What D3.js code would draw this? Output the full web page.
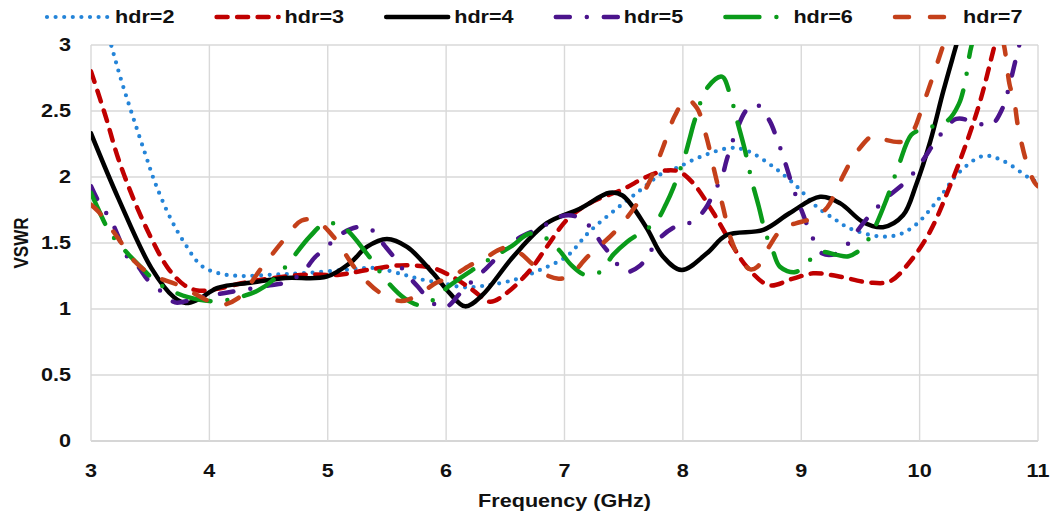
<!DOCTYPE html>
<html>
<head>
<meta charset="utf-8">
<script src="https://cdn.jsdelivr.net/npm/d3@7/dist/d3.min.js"></script>
<style>
  html, body { margin: 0; padding: 0; background: #ffffff; }
  svg { display: block; font-family: "Liberation Sans", Arial, sans-serif; font-weight: bold; }
</style>
</head>
<body>
<svg id="chart" width="1055" height="515"></svg>
<script>
// ---- data ----
const xTicks = [3, 4, 5, 6, 7, 8, 9, 10, 11];
const xTickLabels = ["3", "4", "5", "6", "7", "8", "9", "10", "11"];
const yTicks = [0, 0.5, 1, 1.5, 2, 2.5, 3];
const yTickLabels = ["0", "0.5", "1", "1.5", "2", "2.5", "3"];
const seriesNames = ["hdr=2", "hdr=3", "hdr=4", "hdr=5", "hdr=6", "hdr=7"];

// [frequency (GHz), VSWR]
const hdr2 = [[3.00,3.56],[3.17,3.00],[3.26,2.72],[3.36,2.44],[3.46,2.17],[3.54,1.96],[3.67,1.69],[3.79,1.50],[3.93,1.33],[4.08,1.27],[4.27,1.25],[4.53,1.26],[4.78,1.27],[5.13,1.295],[5.40,1.31],[5.64,1.26],[5.81,1.22],[5.98,1.195],[6.14,1.165],[6.31,1.175],[6.57,1.22],[6.79,1.295],[7.02,1.40],[7.21,1.585],[7.44,1.76],[7.64,1.90],[7.83,2.03],[7.95,2.07],[8.14,2.15],[8.40,2.22],[8.54,2.20],[8.76,2.08],[8.96,1.93],[9.13,1.775],[9.30,1.67],[9.41,1.61],[9.66,1.55],[9.83,1.565],[9.97,1.64],[10.14,1.81],[10.34,2.04],[10.54,2.16],[10.71,2.12],[10.93,1.99],[11.00,1.96]];
const hdr3 = [[3.00,2.80],[3.12,2.47],[3.23,2.14],[3.37,1.81],[3.51,1.535],[3.65,1.31],[3.79,1.18],[3.90,1.14],[4.08,1.155],[4.27,1.195],[4.50,1.23],[4.82,1.26],[5.10,1.26],[5.33,1.295],[5.61,1.33],[5.89,1.31],[6.08,1.23],[6.23,1.14],[6.37,1.055],[6.51,1.12],[6.71,1.295],[6.85,1.47],[7.02,1.675],[7.21,1.80],[7.50,1.91],[7.69,2.00],[7.86,2.05],[7.97,2.04],[8.09,1.95],[8.26,1.725],[8.40,1.51],[8.54,1.32],[8.73,1.18],[8.93,1.23],[9.10,1.27],[9.30,1.25],[9.58,1.20],[9.75,1.21],[9.92,1.36],[10.09,1.59],[10.26,1.94],[10.40,2.27],[10.51,2.57],[10.62,2.95],[10.80,3.60],[11.00,3.90]];
const hdr4 = [[3.00,2.33],[3.23,1.84],[3.51,1.31],[3.70,1.09],[3.80,1.045],[3.90,1.07],[4.07,1.16],[4.36,1.20],[4.64,1.235],[4.99,1.245],[5.19,1.35],[5.33,1.47],[5.50,1.53],[5.67,1.47],[5.89,1.27],[6.03,1.12],[6.16,1.02],[6.30,1.10],[6.57,1.40],[6.85,1.65],[7.13,1.76],[7.38,1.88],[7.49,1.86],[7.69,1.62],[7.83,1.40],[7.99,1.295],[8.20,1.42],[8.37,1.56],[8.68,1.60],[8.90,1.725],[9.16,1.85],[9.33,1.80],[9.52,1.66],[9.69,1.62],[9.86,1.71],[9.97,1.94],[10.09,2.27],[10.20,2.65],[10.31,3.00],[10.50,3.60],[11.00,3.90]];
const hdr5 = [[3.00,1.93],[3.09,1.77],[3.16,1.69],[3.23,1.55],[3.31,1.39],[3.39,1.33],[3.48,1.22],[3.61,1.12],[3.71,1.05],[3.85,1.07],[4.06,1.11],[4.19,1.13],[4.51,1.18],[4.64,1.20],[4.78,1.27],[4.89,1.39],[4.98,1.46],[5.10,1.56],[5.25,1.62],[5.37,1.60],[5.48,1.48],[5.58,1.37],[5.65,1.28],[5.76,1.17],[5.88,1.05],[5.99,1.01],[6.12,1.12],[6.23,1.22],[6.33,1.30],[6.44,1.40],[6.60,1.53],[6.81,1.62],[6.96,1.70],[7.10,1.70],[7.23,1.61],[7.31,1.50],[7.40,1.40],[7.51,1.28],[7.64,1.33],[7.72,1.43],[7.82,1.55],[7.95,1.63],[8.08,1.66],[8.19,1.76],[8.27,1.90],[8.33,2.00],[8.37,2.13],[8.44,2.32],[8.54,2.51],[8.62,2.55],[8.73,2.43],[8.79,2.30],[8.86,2.12],[8.93,1.92],[9.01,1.73],[9.09,1.55],[9.18,1.42],[9.33,1.43],[9.43,1.54],[9.56,1.69],[9.72,1.84],[9.90,1.98],[10.03,2.13],[10.15,2.29],[10.31,2.44],[10.48,2.41],[10.60,2.39],[10.70,2.52],[10.76,2.70],[10.82,2.92],[10.90,3.20],[11.00,3.50]];
const hdr6 = [[3.00,1.88],[3.06,1.76],[3.16,1.58],[3.31,1.42],[3.43,1.31],[3.56,1.20],[3.70,1.13],[3.82,1.09],[4.00,1.06],[4.16,1.07],[4.41,1.14],[4.57,1.245],[4.67,1.35],[4.85,1.55],[4.98,1.65],[5.13,1.62],[5.33,1.42],[5.51,1.20],[5.65,1.08],[5.78,1.03],[5.91,1.08],[6.02,1.17],[6.23,1.30],[6.41,1.40],[6.56,1.48],[6.70,1.57],[6.82,1.55],[6.95,1.45],[7.06,1.33],[7.17,1.26],[7.30,1.28],[7.41,1.41],[7.53,1.51],[7.77,1.66],[7.86,1.80],[7.92,1.92],[8.02,2.17],[8.06,2.30],[8.10,2.43],[8.21,2.68],[8.33,2.76],[8.40,2.62],[8.46,2.42],[8.52,2.22],[8.58,1.98],[8.64,1.78],[8.70,1.57],[8.76,1.44],[8.82,1.32],[8.95,1.28],[9.07,1.37],[9.18,1.43],[9.30,1.41],[9.40,1.40],[9.51,1.46],[9.60,1.58],[9.72,1.83],[9.82,2.08],[9.93,2.32],[10.02,2.36],[10.10,2.38],[10.24,2.43],[10.33,2.55],[10.38,2.70],[10.44,3.00],[10.60,3.40],[11.00,3.60]];
const hdr7 = [[3.00,1.79],[3.06,1.74],[3.23,1.535],[3.37,1.36],[3.51,1.26],[3.74,1.18],[3.93,1.09],[4.08,1.03],[4.24,1.08],[4.44,1.31],[4.64,1.535],[4.78,1.67],[4.90,1.67],[5.06,1.535],[5.23,1.31],[5.43,1.13],[5.62,1.06],[5.75,1.10],[5.92,1.20],[6.04,1.24],[6.20,1.33],[6.30,1.37],[6.45,1.45],[6.54,1.47],[6.63,1.42],[6.73,1.34],[6.82,1.27],[6.95,1.23],[7.04,1.25],[7.20,1.40],[7.42,1.58],[7.60,1.78],[7.72,1.97],[7.83,2.22],[7.93,2.46],[8.03,2.59],[8.12,2.52],[8.20,2.30],[8.27,2.03],[8.34,1.77],[8.41,1.52],[8.49,1.37],[8.57,1.30],[8.63,1.32],[8.72,1.46],[8.85,1.62],[8.96,1.65],[9.10,1.69],[9.22,1.77],[9.32,1.95],[9.47,2.19],[9.62,2.32],[9.72,2.28],[9.86,2.27],[9.94,2.34],[10.03,2.55],[10.20,3.00],[10.45,3.70],[10.70,3.05],[10.76,2.70],[10.80,2.57],[10.83,2.39],[10.91,2.09],[10.97,1.96],[11.00,1.93]];

const seriesData = [hdr2, hdr3, hdr4, hdr5, hdr6, hdr7];

// ---- line styles ----
const seriesStyle = [
  { color: "#2484D8", width: 4.2, dash: "0 8.6" },
  { color: "#C00000", width: 4.5, dash: "11 9.5" },
  { color: "#000000", width: 4.5, dash: null },
  { color: "#4B148C", width: 4.5, dash: "14 17 0 17" },
  { color: "#0A9B1A", width: 4.5, dash: "34 17 0 17" },
  { color: "#C4401A", width: 4.5, dash: "14 21" }
];

// ---- layout ----
const plot = { left: 91, right: 1038, top: 45, bottom: 441 };
const SX = 1.2;            // horizontal stretch of the bold labels
const FONT = 18;

const svg = d3.select("#chart");
const x = d3.scaleLinear().domain([3, 11]).range([plot.left, plot.right]);
const y = d3.scaleLinear().domain([0, 3]).range([plot.bottom, plot.top]);

// gridlines
const grid = svg.append("g").attr("stroke", "#D9D9D9").attr("stroke-width", 1.4);
grid.selectAll("line.h").data(yTicks).join("line")
  .attr("x1", plot.left).attr("x2", plot.right)
  .attr("y1", d => y(d)).attr("y2", d => y(d))
  .attr("stroke", d => d === 0 ? "#C9C9C9" : "#D9D9D9");
grid.selectAll("line.v").data(xTicks).join("line")
  .attr("x1", d => x(d)).attr("x2", d => x(d))
  .attr("y1", plot.top).attr("y2", plot.bottom);

// tick labels
svg.append("g").selectAll("text").data(yTicks).join("text")
  .attr("transform", d => `translate(${plot.left - 20},${y(d)}) scale(${SX},1)`)
  .attr("text-anchor", "end").attr("dy", "0.35em")
  .attr("font-size", FONT).attr("fill", "#111")
  .text((d, i) => yTickLabels[i]);

svg.append("g").selectAll("text").data(xTicks).join("text")
  .attr("transform", d => `translate(${x(d)},${plot.bottom + 30}) scale(${SX},1)`)
  .attr("text-anchor", "middle").attr("dy", "0.35em")
  .attr("font-size", FONT).attr("fill", "#111")
  .text((d, i) => xTickLabels[i]);

// axis titles
svg.append("text")
  .attr("transform", `translate(${(plot.left + plot.right) / 2},${plot.bottom + 60}) scale(${SX},1)`)
  .attr("text-anchor", "middle").attr("dy", "0.35em")
  .attr("font-size", FONT).attr("fill", "#111")
  .text("Frequency (GHz)");

svg.append("text")
  .attr("transform", `translate(21,${(plot.top + plot.bottom) / 2}) scale(${SX},1) rotate(-90)`)
  .attr("text-anchor", "middle").attr("dy", "0.35em")
  .attr("font-size", 17).attr("fill", "#111")
  .text("VSWR");

// curves, clipped to the plot area
svg.append("clipPath").attr("id", "plotClip")
  .append("rect")
  .attr("x", plot.left).attr("y", plot.top)
  .attr("width", plot.right - plot.left).attr("height", plot.bottom - plot.top);

const line = d3.line()
  .x(d => x(d[0])).y(d => y(d[1]))
  .curve(d3.curveCatmullRom.alpha(0.5));

const curves = svg.append("g").attr("clip-path", "url(#plotClip)");
curves.selectAll("path").data(seriesData).join("path")
  .attr("d", line)
  .attr("fill", "none")
  .attr("stroke", (d, i) => seriesStyle[i].color)
  .attr("stroke-width", (d, i) => seriesStyle[i].width)
  .attr("stroke-dasharray", (d, i) => seriesStyle[i].dash)
  .attr("stroke-linecap", "round")
  .attr("stroke-linejoin", "round");

// legend
const legendX = d3.scaleLinear().domain([0, 5]).range([115, 963]);
const legend = svg.append("g").selectAll("g").data(seriesNames).join("g")
  .attr("transform", (d, i) => `translate(${legendX(i)},17)`);
legend.append("line")
  .attr("x1", -68).attr("x2", -6).attr("y1", 0).attr("y2", 0)
  .attr("stroke", (d, i) => seriesStyle[i].color)
  .attr("stroke-width", (d, i) => seriesStyle[i].width)
  .attr("stroke-dasharray", (d, i) => seriesStyle[i].dash)
  .attr("stroke-linecap", "round");
legend.append("text")
  .attr("transform", `scale(${SX},1)`)
  .attr("dy", "0.35em").attr("font-size", FONT).attr("fill", "#111")
  .text(d => d);
</script>
</body>
</html>
